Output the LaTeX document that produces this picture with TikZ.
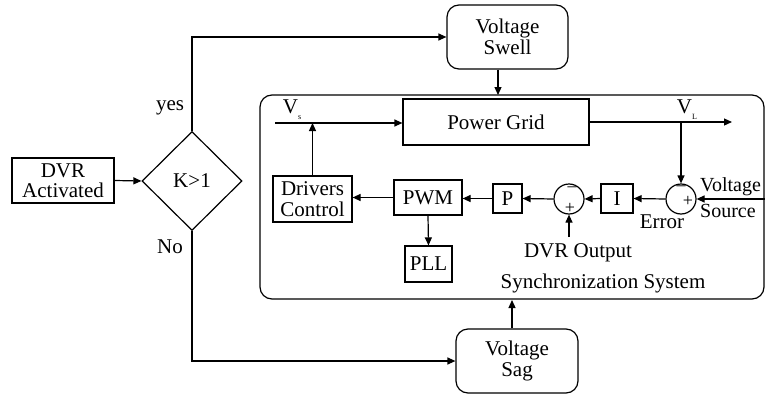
\documentclass[tikz,border=0pt]{standalone}
\usepackage{fontspec}
\setmainfont{Liberation Serif}
\usetikzlibrary{shapes.geometric,arrows.meta}
\begin{document}
\begin{tikzpicture}[x=1pt,y=-1pt,
  every node/.style={font=\fontsize{21}{20.5}\selectfont, align=center, inner sep=0pt},
  blk/.style={draw, line width=1.2pt, rectangle},
  rblk/.style={draw, line width=1.2pt, rectangle, rounded corners=12pt},
  sumc/.style={draw, line width=1.2pt, circle, minimum size=30pt},
  ln/.style={line width=1.2pt},
  arr/.style={line width=1.2pt, -{Triangle[length=8pt,width=7pt]}},
  sgn/.style={font=\fontsize{18}{18}\selectfont}]
\useasboundingbox (0,0) rectangle (765,396);
% outer system frame
\draw[ln, rounded corners=12pt] (260,95) rectangle (764,299);
% nodes
\node[blk, minimum width=102pt, minimum height=45pt] (dvr) at (63,180.5) {DVR\\Activated};
\node[draw, line width=1.2pt, diamond, minimum width=100pt, minimum height=99pt] (k) at (192,181) {K>1};
\node[rblk, minimum width=121pt, minimum height=64pt] (swell) at (507.5,37) {Voltage\\Swell};
\node[rblk, minimum width=122pt, minimum height=64pt] (sag) at (517,361) {Voltage\\Sag};
\node[blk, minimum width=186pt, minimum height=46pt] (grid) at (496,122) {Power Grid};
\node[blk, minimum width=79pt, minimum height=46pt] (dc) at (312.5,199) {Drivers\\Control};
\node[blk, minimum width=68pt, minimum height=35pt] (pwm) at (428,197.5) {PWM};
\node[blk, minimum width=29pt, minimum height=29pt] (p) at (507.5,198.5) {P};
\node[blk, minimum width=32pt, minimum height=29pt] (i) at (617,198.5) {I};
\node[blk, minimum width=47pt, minimum height=36pt] (pll) at (428.5,264) {PLL};
\node[sumc] (s1) at (569,199) {};
\node[sumc] (s2) at (681,199) {};
% signs
\node[sgn] (s1m) at (572,189) {–};
\node[sgn] (s1p) at (570,208) {+};
\node[sgn] (s2m) at (681,188) {–};
\node[sgn] (s2p) at (688,201) {+};
% coordinates
\coordinate (vsin) at (275,123);
\coordinate (vlout) at (732,122);
\coordinate (vsrc) at (766,199);
\coordinate (dvrout) at (569,237);
\coordinate (swin) at (498,95);
\coordinate (sagin) at (512,300);
\coordinate (ytop) at (192,37);
\coordinate (ybot) at (192,361);
% connectors
\draw[arr] (dvr.east) -- (k.west);
\draw[arr] (k.north) -- (ytop) -- (swell.west);
\draw[arr] (k.south) -- (ybot) -- (sag.west);
\draw[arr] (swell.south -| swin) -- (swin);
\draw[arr] (sag.north -| sagin) -- (sagin);
\draw[arr] (vsin) -- (vsin -| grid.west);
\draw[arr] (grid.east |- vlout) -- (vlout);
\draw[arr] (s2 |- vlout) -- (s2.north);
\draw[arr] (vsrc) -- (s2.east);
\draw[arr] (s2.west) -- (i.east);
\draw[arr] (i.west) -- (s1.east);
\draw[arr] (s1.west) -- (p.east);
\draw[arr] (p.west) -- (pwm.east |- p.west);
\draw[arr] (pwm.west) -- (dc.east |- pwm.west);
\draw[arr] (dc.north) -- (dc.north |- vsin);
\draw[arr] (pwm.south) -- (pll.north);
\draw[arr] (dvrout) -- (s1.south);
% labels
\node (yes) at (170,108) {yes};
\node (no) at (170,247) {No};
\node (err) at (662,222) {Error};
\node (dvro) at (578,253) {DVR Output};
\node (sync) at (603,283) {Synchronization System};
\node (vs) at (292,110) {V\raisebox{-6pt}{\fontsize{8}{8}\selectfont s}};
\node (vl) at (687,110) {V\raisebox{-6pt}{\fontsize{8}{8}\selectfont L}};
\node[anchor=west, font=\fontsize{20}{20}\selectfont] (vsl1) at (700,187) {Voltage};
\node[anchor=west, font=\fontsize{20}{20}\selectfont] (vsl2) at (700,211) {Source};
\end{tikzpicture}
\end{document}
